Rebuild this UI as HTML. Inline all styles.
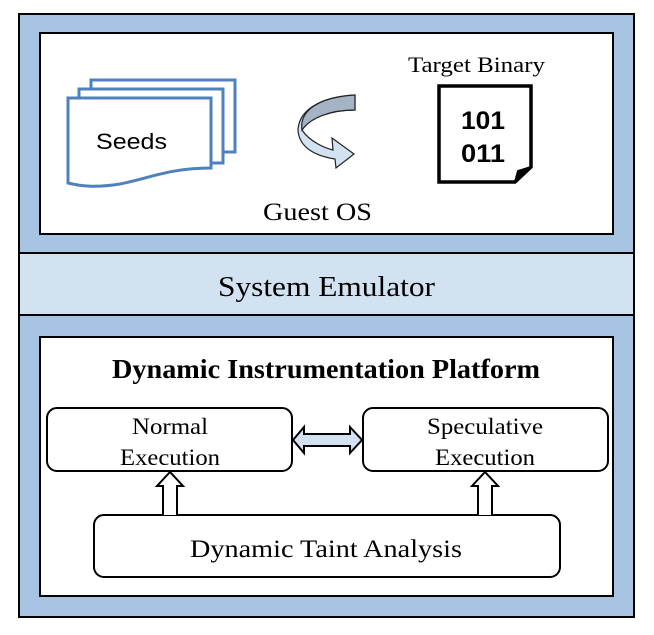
<!DOCTYPE html>
<html><head><meta charset="utf-8"><style>
body{margin:0;width:654px;height:630px;background:#fff;overflow:hidden}
</style></head><body>
<svg width="654" height="630" xmlns="http://www.w3.org/2000/svg" font-family="Liberation Serif, serif">
<rect x="19" y="14" width="615" height="603" fill="#a6c4e2" stroke="#000" stroke-width="2"/>
<rect x="19" y="253" width="615" height="62" fill="#d2e2f1" stroke="#000" stroke-width="2"/>
<rect x="40" y="33" width="573" height="201" fill="#fff" stroke="#000" stroke-width="2"/>
<rect x="40" y="337" width="573" height="259" fill="#fff" stroke="#000" stroke-width="2"/>
<text x="218" y="296" font-size="29" textLength="217" lengthAdjust="spacingAndGlyphs">System Emulator</text>
<!-- seeds -->
<g fill="#fff" stroke="#4f81bd" stroke-width="3">
<rect x="91" y="80" width="144" height="72"/>
<rect x="79" y="89" width="144" height="74"/>
<path d="M68 98 H211 V168 C170 168 150 178 120 184 C95 188 80 186 68 183 Z"/>
</g>
<text x="96" y="149" font-family="Liberation Sans, sans-serif" font-size="22" textLength="71" lengthAdjust="spacingAndGlyphs">Seeds</text>
<!-- curved arrow -->
<path d="M355 95 L355 110 C330 110 310 118 302 130 C310 142 325 148 333 150 L332 138 L354 154 L336 168 L335 159 C316 156 299 148 298 130 C299 110 320 97 355 95 Z" fill="#d2e2f1" stroke="#222" stroke-width="1.2"/>
<path d="M355 95 L355 110 C330 110 310 118 302 130 C299 110 320 97 355 95 Z" fill="#a4b4c4" stroke="#222" stroke-width="1.2"/>
<!-- binary doc -->
<path d="M439 86 H531 V167 L515 182 H439 Z" fill="#fff" stroke="#000" stroke-width="3.5"/>
<path d="M531 167 L518 171 L515 182" fill="#000" stroke="#000" stroke-width="2"/>
<text x="461" y="129" font-family="Liberation Sans, sans-serif" font-weight="bold" font-size="25" textLength="44" lengthAdjust="spacingAndGlyphs">101</text>
<text x="461" y="162" font-family="Liberation Sans, sans-serif" font-weight="bold" font-size="25" textLength="44" lengthAdjust="spacingAndGlyphs">011</text>
<text x="408" y="72" font-size="22" textLength="137" lengthAdjust="spacingAndGlyphs">Target Binary</text>
<text x="263" y="220" font-size="25" textLength="109" lengthAdjust="spacingAndGlyphs">Guest OS</text>
<!-- bottom -->
<text x="112" y="378" font-size="27" font-weight="bold" textLength="428" lengthAdjust="spacingAndGlyphs">Dynamic Instrumentation Platform</text>
<rect x="47" y="408" width="245" height="63" rx="10" fill="#fff" stroke="#000" stroke-width="2"/>
<rect x="363" y="408" width="245" height="63" rx="10" fill="#fff" stroke="#000" stroke-width="2"/>
<rect x="94" y="515" width="466" height="62" rx="10" fill="#fff" stroke="#000" stroke-width="2"/>
<text x="132" y="434" font-size="23" textLength="76" lengthAdjust="spacingAndGlyphs">Normal</text>
<text x="120" y="465" font-size="23" textLength="100" lengthAdjust="spacingAndGlyphs">Execution</text>
<text x="427" y="434" font-size="23" textLength="116" lengthAdjust="spacingAndGlyphs">Speculative</text>
<text x="435" y="465" font-size="23" textLength="100" lengthAdjust="spacingAndGlyphs">Execution</text>
<text x="190" y="557" font-size="25" textLength="272" lengthAdjust="spacingAndGlyphs">Dynamic Taint Analysis</text>
<path d="M293 440 L304 427 V434 H350 V427 L362 440 L350 453 V446 H304 V453 Z" fill="#d2e2f1" stroke="#000" stroke-width="2"/>
<path d="M163 515 V486 H157 L170 472 L183 486 H177 V515" fill="#fff" stroke="#000" stroke-width="2"/>
<path d="M478 515 V486 H472 L485 472 L498 486 H492 V515" fill="#fff" stroke="#000" stroke-width="2"/>
</svg>
</body></html>
